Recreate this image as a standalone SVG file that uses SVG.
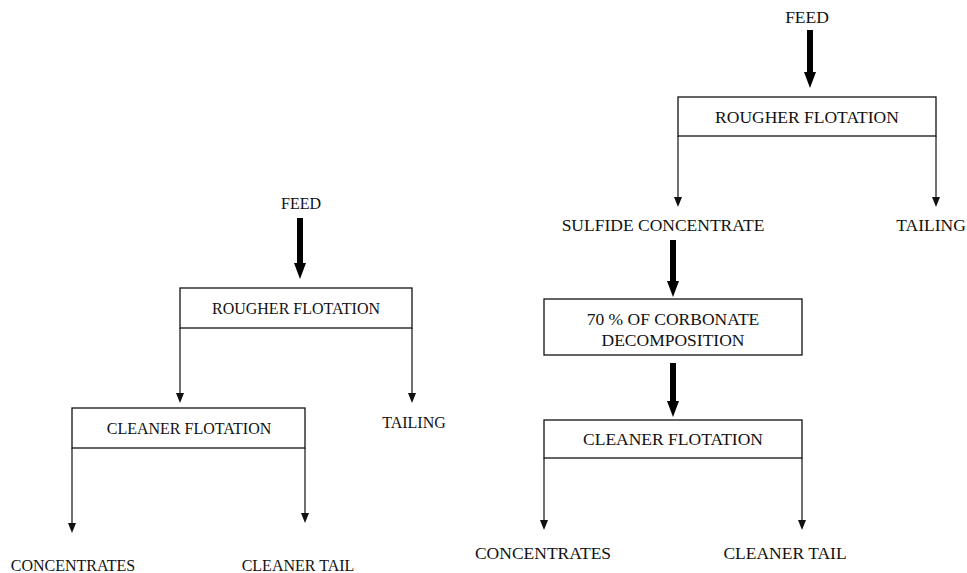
<svg xmlns="http://www.w3.org/2000/svg" width="967" height="573" viewBox="0 0 967 573">
<style>
text{font-family:"Liberation Serif","Times New Roman",serif;fill:#111;text-anchor:middle}
.l{font-size:16px}
.r{font-size:17.5px}
.box{fill:#fff;stroke:#111;stroke-width:1.3}
.thin{stroke:#111;stroke-width:1.2;fill:none}
.thick{stroke:#000;stroke-width:6;fill:none}
</style>
<defs>
<marker id="hk" markerUnits="userSpaceOnUse" markerWidth="16" markerHeight="12" viewBox="0 0 16 12" refX="0" refY="6" orient="auto"><path d="M0,0 L16,6 L0,12 z" fill="#000"/></marker>
<marker id="ht" markerUnits="userSpaceOnUse" markerWidth="10" markerHeight="8" viewBox="0 0 10 8" refX="0" refY="4" orient="auto"><path d="M0,0 L10,4 L0,8 z" fill="#111"/></marker>
</defs>
<g id="connectors">
<line class="thick" x1="300" y1="218" x2="300" y2="263" marker-end="url(#hk)"/>
<line class="thin" x1="180" y1="328" x2="180" y2="393" marker-end="url(#ht)"/>
<line class="thin" x1="412" y1="328" x2="412" y2="393" marker-end="url(#ht)"/>
<line class="thin" x1="72" y1="448" x2="72" y2="523" marker-end="url(#ht)"/>
<line class="thin" x1="305" y1="448" x2="305" y2="513" marker-end="url(#ht)"/>
<line class="thick" x1="810" y1="30" x2="810" y2="72" marker-end="url(#hk)"/>
<line class="thin" x1="678" y1="136" x2="678" y2="197" marker-end="url(#ht)"/>
<line class="thin" x1="936" y1="136" x2="936" y2="197" marker-end="url(#ht)"/>
<line class="thick" x1="673" y1="240" x2="673" y2="281" marker-end="url(#hk)"/>
<line class="thick" x1="673" y1="363" x2="673" y2="401" marker-end="url(#hk)"/>
<line class="thin" x1="544" y1="458" x2="544" y2="520" marker-end="url(#ht)"/>
<line class="thin" x1="802" y1="458" x2="802" y2="520" marker-end="url(#ht)"/>
</g>
<g id="left-feed"><text class="l" x="301" y="209">FEED</text></g>
<g id="left-rougher"><rect class="box" x="180" y="288" width="232" height="40"/><text class="l" x="296" y="314">ROUGHER FLOTATION</text></g>
<g id="left-tailing"><text class="l" x="414" y="428">TAILING</text></g>
<g id="left-cleaner"><rect class="box" x="72" y="408" width="233" height="40"/><text class="l" x="189" y="434">CLEANER FLOTATION</text></g>
<g id="left-concentrates"><text class="l" x="73" y="571">CONCENTRATES</text></g>
<g id="left-cleaner-tail"><text class="l" x="298" y="571">CLEANER TAIL</text></g>
<g id="right-feed"><text class="r" x="807" y="23">FEED</text></g>
<g id="right-rougher"><rect class="box" x="678" y="97" width="258" height="39"/><text class="r" x="807" y="123">ROUGHER FLOTATION</text></g>
<g id="right-sulfide"><text class="r" x="663" y="231">SULFIDE CONCENTRATE</text></g>
<g id="right-tailing"><text class="r" x="931" y="231">TAILING</text></g>
<g id="right-decomposition"><rect class="box" x="544" y="299" width="258" height="56"/><text class="r" x="673" y="325">70 % OF CORBONATE</text><text class="r" x="673" y="346">DECOMPOSITION</text></g>
<g id="right-cleaner"><rect class="box" x="544" y="420" width="258" height="38"/><text class="r" x="673" y="445">CLEANER FLOTATION</text></g>
<g id="right-concentrates"><text class="r" x="543" y="559">CONCENTRATES</text></g>
<g id="right-cleaner-tail"><text class="r" x="785" y="559">CLEANER TAIL</text></g>
</svg>
